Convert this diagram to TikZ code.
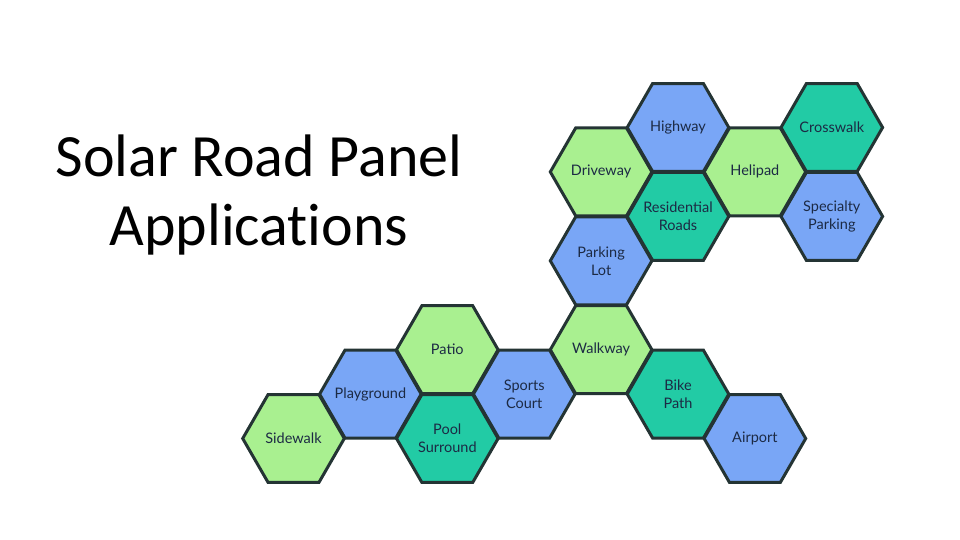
\documentclass[tikz,border=0pt]{standalone}
\usepackage{fontspec}
\setmainfont[Ligatures=NoCommon]{Carlito}
\newfontfamily\hexfont{Lato}
\definecolor{hblue}{HTML}{79A6F6}
\definecolor{hgreen}{HTML}{A9F090}
\definecolor{hteal}{HTML}{22CBA5}
\definecolor{hline}{HTML}{243434}
\definecolor{htext}{HTML}{1C2A44}
\tikzset{
  hexborder/.style={draw=hline, line width=3pt, line join=miter},
  hexlabel/.style={inner sep=0pt, align=center,
    font=\hexfont\fontsize{14.5}{18}\selectfont, text=htext},
  titletext/.style={font=\fontsize{60}{69}\selectfont, align=center},
}
\newcommand{\hexcell}[5]{%
  \draw[hexborder, fill=#4, shift={(#2,#3)}]
    (50.8,0) -- (25.4,43.99) -- (-25.4,43.99) -- (-50.8,0)
    -- (-25.4,-43.99) -- (25.4,-43.99) -- cycle;
  \node[hexlabel] (#1) at (#2,#3) {#5};
}
\begin{document}
\begin{tikzpicture}[x=1pt,y=-1pt]
\useasboundingbox (0,0) rectangle (960,540);
\node[titletext] (title) at (259,195) {Solar Road Panel\\Applications};
% top cluster
\hexcell{highway}{678}{127.5}{hblue}{Highway}
\hexcell{crosswalk}{831.8}{127.5}{hteal}{Crosswalk}
\hexcell{driveway}{601.1}{171.9}{hgreen}{Driveway}
\hexcell{helipad}{754.9}{171.9}{hgreen}{Helipad}
\hexcell{resid}{678}{216.4}{hteal}{Residential\\Roads}
\hexcell{special}{831.8}{216.4}{hblue}{Specialty\\Parking}
\hexcell{parking}{601.1}{260.8}{hblue}{Parking\\Lot}
% lower cluster
\hexcell{walkway}{601.1}{349.7}{hgreen}{Walkway}
\hexcell{patio}{447.3}{349.7}{hgreen}{Patio}
\hexcell{sports}{524.2}{394.1}{hblue}{Sports\\Court}
\hexcell{playground}{370.4}{394.1}{hblue}{Playground}
\hexcell{bike}{678}{394.1}{hteal}{Bike\\Path}
\hexcell{sidewalk}{293.5}{438.5}{hgreen}{Sidewalk}
\hexcell{pool}{447.3}{438.5}{hteal}{Pool\\Surround}
\hexcell{airport}{754.9}{438.5}{hblue}{Airport}
\end{tikzpicture}
\end{document}
